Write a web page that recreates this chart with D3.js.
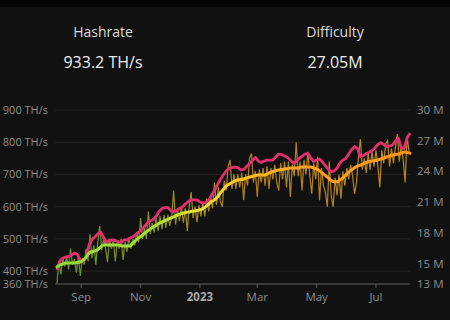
<!DOCTYPE html>
<html>
<head>
<meta charset="utf-8">
<script src="https://cdn.jsdelivr.net/npm/d3@7"></script>
<style>
    html, body { margin: 0; padding: 0; background: #111111; }
    svg { display: block; font-family: "Open Sans", "Noto Sans", sans-serif; }
</style>
</head>
<body>
<div id="chart"></div>
<script>
// header values
const statLabels = ["Hashrate", "Difficulty"];
const statValues = ["933.2 TH/s", "27.05M"];

// axis ticks
const hashTicks = [360, 400, 500, 600, 700, 800, 900];
const diffTicks = [13, 15, 18, 21, 24, 27, 30];
const monthTicks = ["2022-09-01", "2022-11-01", "2023-01-01", "2023-03-01", "2023-05-01", "2023-07-01"];
const monthLabels = ["Sep", "Nov", "2023", "Mar", "May", "Jul"];

// series start date; smoothed series every 3 days, raw hashrate every 2 days
const seriesStart = "2022-08-07";

// hashrate, smoothed (TH/s)
const hashAvg = [
    413, 419, 422, 425, 425, 425, 425, 427, 428, 434,
    444, 456, 461, 462, 467, 475, 481, 481, 481, 481,
    481, 481, 479, 478, 478, 478, 487, 495, 503, 509,
    517, 524, 531, 537, 542, 548, 552, 557, 560, 565,
    568, 573, 577, 579, 582, 583, 585, 587, 588, 590,
    594, 600, 608, 616, 621, 630, 642, 653, 664, 670,
    675, 680, 683, 684, 686, 689, 692, 694, 697, 698,
    698, 698, 701, 706, 709, 712, 714, 715, 717, 718,
    720, 720, 720, 721, 723, 723, 723, 723, 720, 717,
    711, 704, 697, 689, 681, 677, 677, 683, 689, 698,
    707, 714, 721, 726, 729, 732, 737, 740, 742, 743,
    745, 748, 751, 754, 757, 760, 762, 763, 766, 770,
    768, 766
];

// difficulty (M)
const difficulty = [
    14.37, 15.25, 15.54, 15.64, 15.69, 15.83, 16.03, 15.88, 15.34, 15.20,
    15.59, 16.81, 17.35, 17.59, 17.89, 18.08, 17.54, 17.05, 17.25, 17.30,
    17.25, 17.15, 17.05, 17.30, 17.30, 17.49, 17.59, 17.84, 18.08, 18.32,
    18.62, 18.96, 19.16, 19.30, 19.64, 20.08, 20.38, 20.47, 20.47, 20.18,
    20.03, 20.18, 20.38, 20.52, 20.82, 21.06, 21.21, 21.21, 21.21, 21.01,
    20.91, 20.96, 21.16, 21.70, 22.13, 22.67, 23.21, 23.65, 24.04, 24.28,
    24.38, 24.43, 24.38, 24.14, 24.19, 24.48, 24.77, 25.07, 25.36, 25.02,
    24.87, 25.02, 25.11, 25.11, 25.11, 25.41, 25.70, 25.65, 25.51, 25.36,
    25.11, 24.82, 24.97, 25.26, 25.46, 25.70, 25.75, 25.31, 24.97, 25.11,
    25.21, 24.92, 24.53, 24.19, 23.99, 24.04, 24.33, 24.82, 25.11, 25.26,
    25.70, 26.14, 26.43, 26.24, 25.41, 25.55, 25.75, 25.85, 26.04, 26.29,
    26.63, 26.82, 26.63, 26.43, 26.48, 26.58, 26.97, 27.26, 26.29, 26.24,
    27.26, 27.75
];

// hashrate, raw (TH/s)
const hashRaw = [
    362, 430, 390, 440, 415, 445, 405, 470, 420, 438,
    395, 445, 385, 440, 420, 470, 430, 515, 440, 480,
    420, 490, 540, 465, 500, 470, 428, 500, 470, 495,
    430, 490, 470, 500, 435, 490, 460, 505, 470, 500,
    480, 520, 490, 565, 500, 535, 500, 585, 515, 550,
    520, 565, 525, 570, 530, 575, 535, 575, 540, 570,
    650, 545, 590, 555, 600, 550, 595, 525, 600, 645,
    565, 600, 552, 605, 570, 615, 570, 625, 585, 630,
    595, 675, 605, 660, 615, 600, 680, 650, 725, 745,
    655, 700, 655, 700, 660, 705, 620, 700, 665, 750,
    765, 675, 710, 630, 715, 675, 720, 665, 725, 655,
    720, 685, 730, 675, 650, 735, 685, 740, 660, 740,
    630, 730, 695, 800, 695, 740, 650, 745, 700, 770,
    695, 640, 735, 685, 755, 620, 720, 665, 645, 600,
    740, 635, 600, 690, 635, 700, 625, 710, 665, 720,
    685, 730, 695, 640, 675, 755, 810, 715, 750, 705,
    765, 715, 770, 725, 775, 725, 660, 775, 735, 795,
    805, 725, 780, 735, 785, 825, 740, 790, 745, 675,
    820, 770
];

const width = 450;
const height = 320;
const plot = {left: 55, right: 410, top: 110, bottom: 284};

const parse = d3.timeParse("%Y-%m-%d");
const start = parse(seriesStart);

const svg = d3.select("#chart").append("svg")
    .attr("width", width)
    .attr("height", height)
    .attr("viewBox", "0 0 " + width + " " + height);

svg.append("rect").attr("width", width).attr("height", height).attr("fill", "#111111");
svg.append("rect").attr("width", width).attr("height", 7).attr("fill", "#030303");

// header
const statX = [103, 335];
statLabels.forEach((t, i) => {
    svg.append("text")
        .attr("x", statX[i]).attr("y", 37)
        .attr("text-anchor", "middle")
        .attr("font-size", 14)
        .attr("fill", "#dcdcdc")
        .text(t);
    svg.append("text")
        .attr("x", statX[i]).attr("y", 68)
        .attr("text-anchor", "middle")
        .attr("font-size", 16)
        .attr("fill", "#eeeeee")
        .text(statValues[i]);
});

// scales
const x = d3.scaleTime()
    .domain([parse("2022-08-05"), parse("2023-08-05")])
    .range([plot.left, plot.right]);
const yHash = d3.scaleLinear().domain([360, 900]).range([plot.bottom, plot.top]);
const yDiff = d3.scaleLinear().domain([13, 30]).range([plot.bottom, plot.top]);

// grid
svg.append("g")
    .selectAll("line")
    .data(hashTicks.filter(d => d > 360))
    .join("line")
    .attr("x1", plot.left).attr("x2", plot.right)
    .attr("y1", d => yHash(d)).attr("y2", d => yHash(d))
    .attr("stroke", "#242424")
    .attr("stroke-width", 1);

// left axis labels (400 and 360 sit tight, as in the original)
svg.append("g")
    .selectAll("text")
    .data(hashTicks)
    .join("text")
    .attr("x", 48)
    .attr("y", d => yHash(d) + 4)
    .attr("text-anchor", "end")
    .attr("font-size", 11)
    .attr("fill", "#8c8c8c")
    .text(d => d + " TH/s");

// right axis labels
svg.append("g")
    .selectAll("text")
    .data(diffTicks)
    .join("text")
    .attr("x", 417)
    .attr("y", d => yDiff(d) + 4)
    .attr("font-size", 11.5)
    .attr("fill", "#8c8c8c")
    .text(d => d + " M");

// x axis
const xAxis = svg.append("g").attr("transform", "translate(0," + plot.bottom + ")");
xAxis.append("line")
    .attr("x1", plot.left).attr("x2", plot.right)
    .attr("stroke", "#5e5e5e");
const ticks = xAxis.selectAll("g.tick")
    .data(monthTicks.map(parse))
    .join("g")
    .attr("class", "tick")
    .attr("transform", d => "translate(" + x(d) + ",0)");
ticks.append("line").attr("y2", 4).attr("stroke", "#5e5e5e");
ticks.append("text")
    .attr("y", 17)
    .attr("text-anchor", "middle")
    .attr("font-size", 11.5)
    .attr("font-weight", (d, i) => monthLabels[i] === "2023" ? "bold" : "normal")
    .attr("fill", (d, i) => monthLabels[i] === "2023" ? "#a8a8a8" : "#8c8c8c")
    .text((d, i) => monthLabels[i]);

// gradients along x
const defs = svg.append("defs");
function gradient(id, stops) {
    const g = defs.append("linearGradient")
        .attr("id", id)
        .attr("gradientUnits", "userSpaceOnUse")
        .attr("x1", plot.left).attr("x2", plot.right)
        .attr("y1", 0).attr("y2", 0);
    stops.forEach(s => g.append("stop")
        .attr("offset", s[0]).attr("stop-color", s[1]));
}
gradient("thickGrad", [[0, "#8cdc3a"], [0.27, "#a8dc3c"], [0.4, "#e2e23a"], [0.5, "#ffc82c"], [0.7, "#ffa21e"], [1, "#ff981a"]]);
gradient("thinGrad", [[0, "#66902c"], [0.27, "#7f8e28"], [0.4, "#a28a22"], [0.55, "#b27e1a"], [1, "#ba861c"]]);

const dayRaw = (d, i) => x(d3.timeDay.offset(start, i * 2));
const day3 = (d, i) => x(d3.timeDay.offset(start, i * 3));

const body = svg.append("g");

body.append("path")
    .datum(hashRaw)
    .attr("fill", "none")
    .attr("stroke", "url(#thinGrad)")
    .attr("stroke-width", 1.2)
    .attr("d", d3.line().x(dayRaw).y(d => yHash(d)));

body.append("path")
    .datum(difficulty)
    .attr("fill", "none")
    .attr("stroke", "#e2306e")
    .attr("stroke-width", 2.8)
    .attr("stroke-linejoin", "round")
    .attr("d", d3.line().x(day3).y(d => yDiff(d)));

body.append("path")
    .datum(hashAvg)
    .attr("fill", "none")
    .attr("stroke", "url(#thickGrad)")
    .attr("stroke-width", 3)
    .attr("stroke-linejoin", "round")
    .attr("stroke-linecap", "round")
    .attr("d", d3.line().x(day3).y(d => yHash(d)).curve(d3.curveMonotoneX));
</script>
</body>
</html>
